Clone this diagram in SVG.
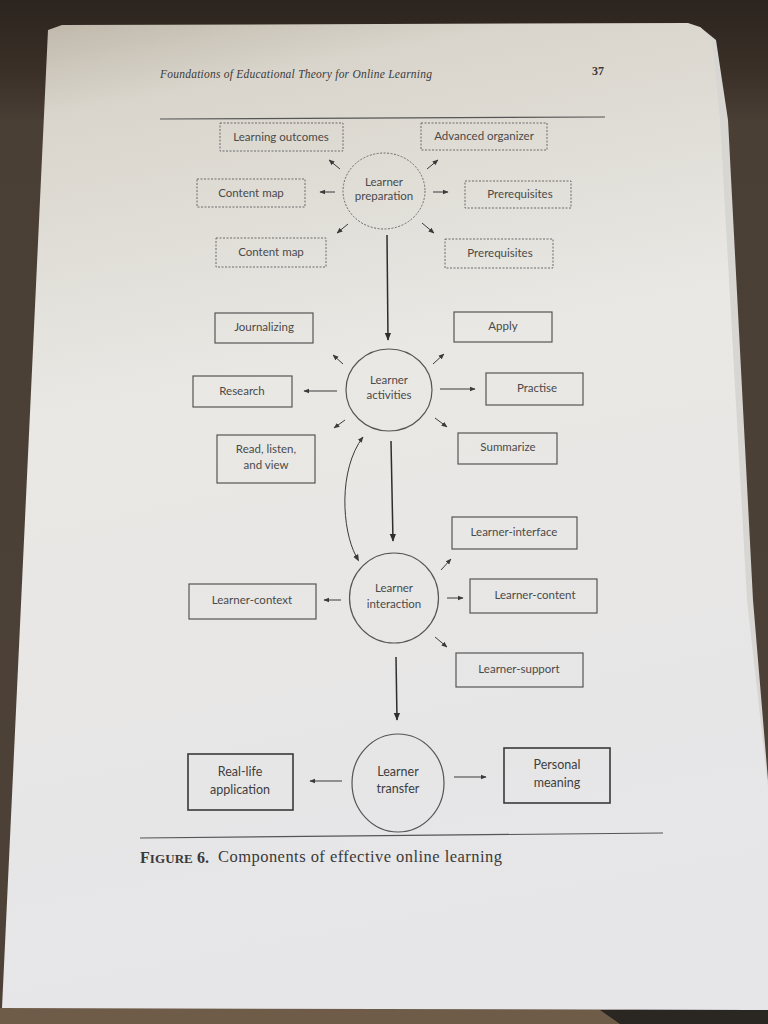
<svg xmlns="http://www.w3.org/2000/svg" width="768" height="1024" viewBox="0 0 768 1024">
<defs>
<linearGradient id="pageg" x1="0" y1="0" x2="0.15" y2="1">
<stop offset="0" stop-color="#bdb5a7"/>
<stop offset="0.1" stop-color="#d9d5cc"/>
<stop offset="0.4" stop-color="#e9e8e4"/>
<stop offset="1" stop-color="#e6e5e8"/>
</linearGradient>
<linearGradient id="bgg" x1="0" y1="0" x2="0" y2="1">
<stop offset="0" stop-color="#2c241e"/>
<stop offset="0.07" stop-color="#3a3028"/>
<stop offset="0.12" stop-color="#4a3f35"/>
<stop offset="1" stop-color="#4e4238"/>
</linearGradient>
<marker id="ah" viewBox="0 0 10 10" refX="9" refY="5" markerWidth="6" markerHeight="6" markerUnits="userSpaceOnUse" orient="auto">
<path d="M0,1 L10,5 L0,9 z" fill="#3a3a3a"/>
</marker>
<marker id="ahb" viewBox="0 0 10 10" refX="9" refY="5" markerWidth="8" markerHeight="8" markerUnits="userSpaceOnUse" orient="auto">
<path d="M0,1 L10,5 L0,9 z" fill="#2e2e2e"/>
</marker>
<marker id="ahs" viewBox="0 0 10 10" refX="1" refY="5" markerWidth="7" markerHeight="7" markerUnits="userSpaceOnUse" orient="auto-start-reverse">
<path d="M0,1 L10,5 L0,9 z" fill="#3a3a3a"/>
</marker>
</defs>
<style>
.lbl{font-family:Lato,"Open Sans","DejaVu Sans",sans-serif;font-size:11.5px;fill:#4a4a4a;text-anchor:middle}
.big{font-size:12.5px;fill:#3e3e3e}
.dbox{fill:none;stroke:#6a6a6a;stroke-width:1;stroke-dasharray:2 1.5}
.box{fill:none;stroke:#555;stroke-width:1.2}
.boxb{fill:none;stroke:#3a3a3a;stroke-width:1.6}
.circ{fill:none;stroke:#555;stroke-width:1.2}
.con{fill:none;stroke:#3a3a3a;stroke-width:1;marker-end:url(#ah)}
.main{fill:none;stroke:#2e2e2e;stroke-width:1.5;marker-end:url(#ahb)}
.rule{stroke:#555;stroke-width:1.2}
.serif{font-family:"Liberation Serif","DejaVu Serif",serif;fill:#3a3a3a}
</style>
<rect x="0" y="0" width="768" height="1024" fill="url(#bgg)"/>
<rect x="0" y="1008" width="768" height="16" fill="#6e5c49"/>
<polygon points="600,1010 768,1006 768,1024 620,1024" fill="#2a2622"/>
<polygon points="700,27 716,40 728,120 753,600 768,780 768,1010 740,1010" fill="#d8d6d2"/>
<polygon points="48,30 62,25 688,23 700,27 712,40 720,120 747,600 768,787 768,1010 2,1008" fill="url(#pageg)"/>

<g id="header">
<text class="serif" x="160" y="78" font-size="11.5" font-style="italic" textLength="272">Foundations of Educational Theory for Online Learning</text>
<text class="serif" x="592" y="75" font-size="12" font-weight="bold">37</text>
<line class="rule" x1="160" y1="119" x2="605" y2="117"/>
</g>

<g id="connectors">
<line class="con" x1="340" y1="169" x2="329" y2="160"/>
<line class="con" x1="427" y1="169" x2="438" y2="160"/>
<line class="con" x1="335" y1="192" x2="320" y2="192"/>
<line class="con" x1="433" y1="192" x2="448" y2="192"/>
<line class="con" x1="348" y1="224" x2="337" y2="233"/>
<line class="con" x1="422" y1="223" x2="434" y2="233"/>
<line class="main" x1="387" y1="235" x2="388" y2="340"/>
<line class="con" x1="343" y1="364" x2="333" y2="355"/>
<line class="con" x1="433" y1="364" x2="444" y2="354"/>
<line class="con" x1="337" y1="391" x2="304" y2="391"/>
<line class="con" x1="440" y1="389" x2="475" y2="389"/>
<line class="con" x1="345" y1="420" x2="334" y2="428"/>
<line class="con" x1="435" y1="418" x2="447" y2="427"/>
<path d="M356,556 C342,530 338,470 363,437" fill="none" stroke="#3a3a3a" stroke-width="1" marker-start="url(#ahs)" marker-end="url(#ah)"/>
<line class="main" x1="391" y1="441" x2="393" y2="541"/>
<line class="con" x1="441" y1="570" x2="451" y2="559"/>
<line class="con" x1="341" y1="600" x2="324" y2="600"/>
<line class="con" x1="447" y1="598" x2="463" y2="598"/>
<line class="con" x1="435" y1="637" x2="447" y2="647"/>
<line class="main" x1="396" y1="657" x2="397" y2="720"/>
<line class="con" x1="342" y1="781" x2="310" y2="781"/>
<line class="con" x1="454" y1="777" x2="486" y2="777"/>
</g>

<g id="prep">
<ellipse class="dbox" cx="384" cy="191" rx="41" ry="38"/>
<text class="lbl" x="384" y="186">Learner</text>
<text class="lbl" x="384" y="200">preparation</text>
</g>
<g id="learning-outcomes"><rect class="dbox" x="220" y="123" width="123" height="28"/><text class="lbl" x="281" y="141">Learning outcomes</text></g>
<g id="advanced-organizer"><rect class="dbox" x="421" y="123" width="126" height="27"/><text class="lbl" x="484" y="140">Advanced organizer</text></g>
<g id="content-map-1"><rect class="dbox" x="197" y="179" width="108" height="28"/><text class="lbl" x="251" y="197">Content map</text></g>
<g id="prerequisites-1"><rect class="dbox" x="465" y="181" width="106" height="27"/><text class="lbl" x="520" y="198">Prerequisites</text></g>
<g id="content-map-2"><rect class="dbox" x="216" y="238" width="110" height="29"/><text class="lbl" x="271" y="256">Content map</text></g>
<g id="prerequisites-2"><rect class="dbox" x="445" y="239" width="108" height="29"/><text class="lbl" x="500" y="257">Prerequisites</text></g>

<g id="activities">
<ellipse class="circ" cx="389" cy="390" rx="43" ry="41"/>
<text class="lbl" x="389" y="384">Learner</text>
<text class="lbl" x="389" y="399">activities</text>
</g>
<g id="journalizing"><rect class="box" x="215" y="313" width="98" height="30"/><text class="lbl" x="264" y="331">Journalizing</text></g>
<g id="apply"><rect class="box" x="454" y="312" width="98" height="30"/><text class="lbl" x="503" y="330">Apply</text></g>
<g id="research"><rect class="box" x="193" y="376" width="99" height="31"/><text class="lbl" x="242" y="395">Research</text></g>
<g id="practise"><rect class="box" x="486" y="373" width="97" height="32"/><text class="lbl" x="537" y="392">Practise</text></g>
<g id="read-listen-view"><rect class="box" x="217" y="435" width="98" height="48"/><text class="lbl" x="266" y="453">Read, listen,</text><text class="lbl" x="266" y="469">and view</text></g>
<g id="summarize"><rect class="box" x="458" y="433" width="99" height="31"/><text class="lbl" x="508" y="451">Summarize</text></g>

<g id="interaction">
<ellipse class="circ" cx="394" cy="598" rx="44.5" ry="45"/>
<text class="lbl" x="394" y="592">Learner</text>
<text class="lbl" x="394" y="608">interaction</text>
</g>
<g id="learner-interface"><rect class="box" x="452" y="517" width="125" height="32"/><text class="lbl" x="514" y="536">Learner-interface</text></g>
<g id="learner-context"><rect class="box" x="189" y="584" width="127" height="35"/><text class="lbl" x="252" y="604">Learner-context</text></g>
<g id="learner-content"><rect class="box" x="470" y="579" width="127" height="34"/><text class="lbl" x="535" y="599">Learner-content</text></g>
<g id="learner-support"><rect class="box" x="456" y="653" width="127" height="34"/><text class="lbl" x="519" y="673">Learner-support</text></g>

<g id="transfer">
<ellipse class="circ" cx="398" cy="783" rx="46" ry="49" stroke-width="1.5"/>
<text class="lbl big" x="398" y="776">Learner</text>
<text class="lbl big" x="398" y="793">transfer</text>
</g>
<g id="real-life-application"><rect class="boxb" x="188" y="754" width="105" height="56"/><text class="lbl big" x="240" y="776">Real-life</text><text class="lbl big" x="240" y="794">application</text></g>
<g id="personal-meaning"><rect class="boxb" x="504" y="748" width="106" height="55"/><text class="lbl big" x="557" y="769">Personal</text><text class="lbl big" x="557" y="787">meaning</text></g>

<g id="caption">
<line class="rule" x1="140" y1="838" x2="663" y2="833"/>
<text class="serif" x="140" y="863" font-size="16" font-weight="bold" fill="#333" textLength="69">F<tspan font-size="13">IGURE</tspan> 6.</text>
<text class="serif" x="218" y="862" font-size="16.5" fill="#333" textLength="284">Components of effective online learning</text>
</g>
</svg>
